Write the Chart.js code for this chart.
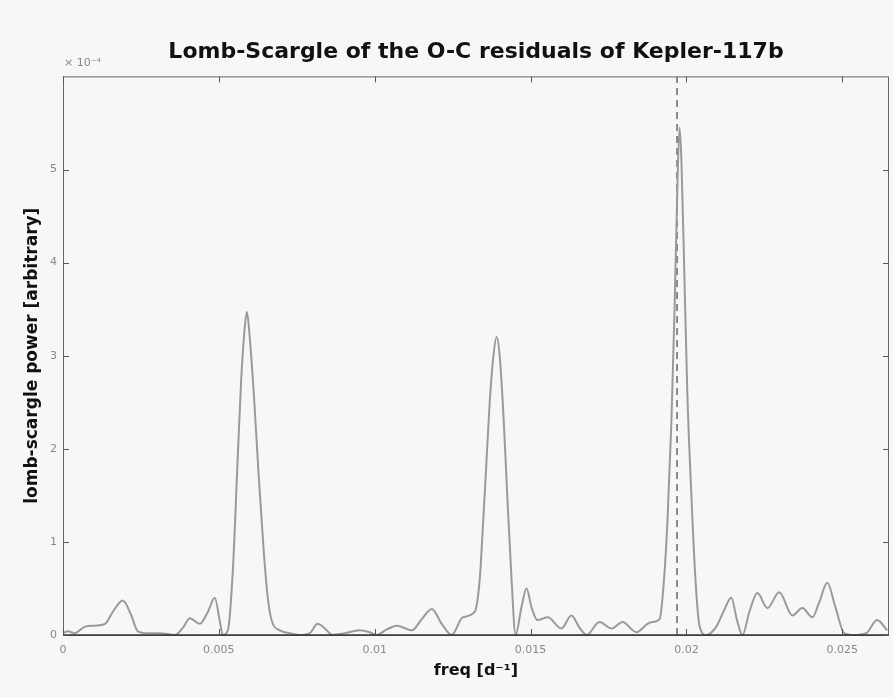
<!DOCTYPE html>
<html>
<head>
<meta charset="utf-8">
<script src="https://cdn.jsdelivr.net/npm/chart.js@4.4.0/dist/chart.umd.min.js"></script>
<style>
  body { margin: 0; background: #f7f7f7; }
  #wrap { width: 893px; height: 697px; }
</style>
</head>
<body>
<div id="wrap"><canvas id="ls"></canvas></div>
<script>
// frequency [1/d]
const freq = [0, 0.00016, 0.00038, 0.00071, 0.00103, 0.00135, 0.0016, 0.00192, 0.00218, 0.0024,
  0.00272, 0.00311, 0.00359, 0.00385, 0.00407, 0.00439, 0.00465, 0.00487, 0.00503, 0.00513,
  0.00529, 0.00545, 0.00558, 0.00571, 0.00583, 0.0059, 0.00599, 0.00612, 0.00628, 0.00644,
  0.00657, 0.0067, 0.00696, 0.00728, 0.0076, 0.00792, 0.00817, 0.00843, 0.00865, 0.00904,
  0.00952, 0.00984, 0.01006, 0.01039, 0.01071, 0.01119, 0.01151, 0.01183, 0.01215, 0.01247,
  0.01282, 0.01321, 0.01337, 0.01346, 0.01356, 0.01369, 0.01381, 0.01391, 0.01401, 0.01414,
  0.01426, 0.01439, 0.01452, 0.01471, 0.01487, 0.01503, 0.01522, 0.01555, 0.01599, 0.01631,
  0.01657, 0.0168, 0.01721, 0.0176, 0.01795, 0.0184, 0.01875, 0.01891, 0.01914, 0.01926,
  0.01939, 0.01952, 0.01962, 0.01971, 0.01978, 0.01984, 0.01994, 0.02003, 0.02016, 0.02029,
  0.02042, 0.02064, 0.02096, 0.02119, 0.02144, 0.02163, 0.0218, 0.02202, 0.02228, 0.0226,
  0.02298, 0.0234, 0.02372, 0.02404, 0.02426, 0.02452, 0.02478, 0.02506, 0.02538, 0.02577,
  0.02612, 0.02644];
// lomb-scargle power, in units of 1e-4
const power = [0.02, 0.04, 0.02, 0.09, 0.10, 0.12, 0.25, 0.37, 0.22, 0.04,
  0.02, 0.02, 0.0, 0.08, 0.18, 0.12, 0.25, 0.40, 0.15, 0.0,
  0.05, 0.7, 1.7, 2.7, 3.3, 3.47, 3.2, 2.6, 1.7, 0.9,
  0.4, 0.15, 0.05, 0.02, 0.0, 0.02, 0.12, 0.06, 0.0, 0.02,
  0.05, 0.03, 0.0, 0.06, 0.1, 0.05, 0.17, 0.28, 0.12, 0.0,
  0.19, 0.25, 0.6, 1.1, 1.7, 2.5, 3.0, 3.2, 3.0, 2.3,
  1.45, 0.6, 0.0, 0.3, 0.50, 0.3, 0.16, 0.19, 0.07, 0.21,
  0.08, 0.0, 0.14, 0.07, 0.14, 0.03, 0.12, 0.14, 0.17, 0.5,
  1.2, 2.3, 3.5, 4.8, 5.45, 5.1, 3.8, 2.6, 1.5, 0.6,
  0.1, 0.0, 0.09, 0.25, 0.40, 0.15, 0.0, 0.25, 0.45, 0.29,
  0.46, 0.21, 0.29, 0.19, 0.35, 0.56, 0.3, 0.02, 0.0, 0.02,
  0.16, 0.05];
const markFreq = 0.0197;   // dashed line (Kepler-117b period)
const xTicks = [0, 0.005, 0.01, 0.015, 0.02, 0.025];
const xTickLabels = ['0', '0.005', '0.01', '0.015', '0.02', '0.025'];
const yTicks = [0, 1, 2, 3, 4, 5];
const yTickLabels = ['0', '1', '2', '3', '4', '5'];

const FONT = "'DejaVu Sans', sans-serif";

// matlab style box with inward ticks + exponent label
const boxPlugin = {
  id: 'box',
  afterDraw(chart) {
    const {ctx, chartArea: a, scales} = chart;
    ctx.save();
    ctx.strokeStyle = '#666';
    ctx.lineWidth = 1;
    ctx.strokeRect(a.left + 0.5, a.top + 0.5, a.right - a.left - 1, a.bottom - a.top);
    ctx.strokeStyle = '#333';
    ctx.lineWidth = 1.5;
    ctx.beginPath(); ctx.moveTo(a.left, a.bottom); ctx.lineTo(a.right, a.bottom); ctx.stroke();
    ctx.strokeStyle = '#555';
    ctx.lineWidth = 1;
    ctx.beginPath();
    xTicks.forEach(v => {
      const px = Math.round(scales.x.getPixelForValue(v)) + 0.5;
      ctx.moveTo(px, a.bottom); ctx.lineTo(px, a.bottom - 6);
      ctx.moveTo(px, a.top); ctx.lineTo(px, a.top + 6);
    });
    yTicks.forEach(v => {
      const py = Math.round(scales.y.getPixelForValue(v)) + 0.5;
      ctx.moveTo(a.left, py); ctx.lineTo(a.left + 6, py);
      ctx.moveTo(a.right, py); ctx.lineTo(a.right - 6, py);
    });
    ctx.stroke();
    ctx.fillStyle = '#888';
    ctx.font = '11px ' + FONT;
    ctx.textBaseline = 'alphabetic';
    ctx.fillText('\u00d7 10\u207b\u2074', a.left + 1, a.top - 10);
    ctx.restore();
  }
};

new Chart(document.getElementById('ls'), {
  type: 'line',
  data: {
    datasets: [
      {
        data: freq.map((f, i) => ({x: f, y: power[i]})),
        borderColor: '#9a9a9a',
        borderWidth: 2,
        pointRadius: 0,
        cubicInterpolationMode: 'monotone'
      },
      {
        data: [{x: markFreq, y: 0}, {x: markFreq, y: 6}],
        borderColor: '#666',
        borderWidth: 1.5,
        borderDash: [7, 5],
        pointRadius: 0
      }
    ]
  },
  options: {
    responsive: true,
    maintainAspectRatio: false,
    animation: false,
    events: [],
    layout: {padding: {left: 0, right: 4, top: 0, bottom: 0}},
    plugins: {
      legend: {display: false},
      tooltip: {enabled: false},
      title: {
        display: true,
        text: 'Lomb-Scargle of the O-C residuals of Kepler-117b',
        fullSize: false,
        color: '#111',
        font: {family: FONT, size: 22, weight: 'bold'},
        padding: {top: 39, bottom: 11}
      }
    },
    scales: {
      x: {
        type: 'linear',
        min: 0,
        max: 0.0265,
        afterBuildTicks: s => { s.ticks = xTicks.map(v => ({value: v})); },
        afterFit: s => { s.height = 62; },
        grid: {display: false, drawTicks: false},
        border: {display: false},
        ticks: {
          padding: 9,
          color: '#888',
          font: {family: FONT, size: 11},
          callback: (v, i) => xTickLabels[i]
        },
        title: {
          display: true,
          text: 'freq [d\u207b\u00b9]',
          color: '#111',
          font: {family: FONT, size: 16, weight: 'bold'},
          padding: {top: 0, bottom: 17}
        }
      },
      y: {
        min: 0,
        max: 6,
        afterBuildTicks: s => { s.ticks = yTicks.map(v => ({value: v})); },
        afterFit: s => { s.width = 63; },
        grid: {display: false, drawTicks: false},
        border: {display: false},
        ticks: {
          padding: 6,
          color: '#888',
          font: {family: FONT, size: 11},
          callback: (v, i) => yTickLabels[i]
        },
        title: {
          display: true,
          text: 'lomb-scargle power [arbitrary]',
          color: '#111',
          font: {family: FONT, size: 17, weight: 'bold'},
          padding: {top: 22, bottom: 0}
        }
      }
    }
  },
  plugins: [boxPlugin]
});
</script>
</body>
</html>
